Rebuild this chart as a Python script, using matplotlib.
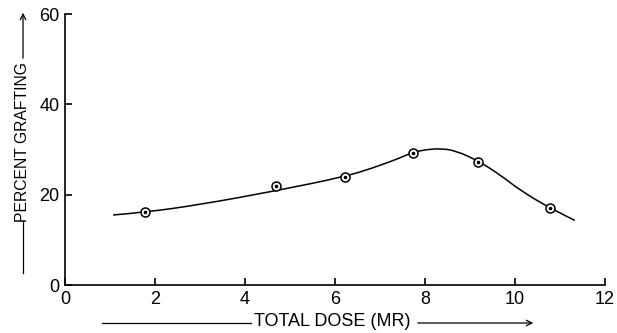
import matplotlib
matplotlib.use('Agg')
import matplotlib.pyplot as plt
from matplotlib.path import Path
from matplotlib.patches import PathPatch

# measured grafting yields
dose = [1.78, 4.70, 6.22, 7.73, 9.18, 10.78]
grafting = [16.1, 21.9, 24.0, 29.3, 27.3, 17.1]

# hand-drawn trend curve through the measurements
curve_dose = [1.07, 1.78, 3.0, 4.71, 6.22, 6.84, 7.44, 7.73, 8.04, 8.33,
              8.67, 9.18, 9.67, 10.11, 10.78, 11.33]
curve_pct = [15.5, 16.1, 17.8, 20.9, 24.0, 25.9, 28.1, 29.4, 30.0, 30.2,
             29.8, 27.5, 24.4, 21.0, 17.0, 14.3]

x_ticks = [0, 2, 4, 6, 8, 10, 12]
y_ticks = [0, 20, 40, 60]

plt.rcParams['font.family'] = ['Liberation Sans', 'DejaVu Sans']


def smooth_path(xs, ys):
    # quadratic bezier segments joining the midpoints, with the read points as controls
    pts = list(zip(xs, ys))
    verts = [pts[0]]
    codes = [Path.MOVETO]
    for i in range(1, len(pts) - 1):
        mid = ((pts[i][0] + pts[i + 1][0]) / 2, (pts[i][1] + pts[i + 1][1]) / 2)
        if i == len(pts) - 2:
            mid = pts[-1]
        verts += [pts[i], mid]
        codes += [Path.CURVE3, Path.CURVE3]
    return Path(verts, codes)


fig = plt.figure(figsize=(6.17, 3.33), dpi=100)
ax = fig.add_axes([0.1053, 0.1441, 0.8752, 0.8138])

ax.add_patch(PathPatch(smooth_path(curve_dose, curve_pct), facecolor='none',
                       edgecolor='black', lw=1.1))
ax.plot(dose, grafting, linestyle='none', marker='o', markersize=6.5,
        markerfacecolor='white', markeredgecolor='black', markeredgewidth=1.1)
ax.plot(dose, grafting, linestyle='none', marker='o', markersize=1.6,
        color='black')

ax.set_xlim(0, 12)
ax.set_ylim(0, 60)
ax.set_xticks(x_ticks)
ax.set_yticks(y_ticks)
for side in ('top', 'right'):
    ax.spines[side].set_visible(False)
for side in ('left', 'bottom'):
    ax.spines[side].set_linewidth(1.2)
ax.tick_params(direction='in', length=5, width=1.2, labelsize=13, pad=4)

# axis titles drawn with leader lines and arrows
fig.text(332, 11, 'TOTAL DOSE (MR)', transform=None, fontsize=13,
         ha='center', va='center')
fig.add_artist(plt.Line2D([102, 251], [10, 10], transform=None,
                          color='black', lw=0.9))
ax.annotate('', xy=(536, 10), xytext=(415, 10), xycoords='figure pixels',
            textcoords='figure pixels',
            arrowprops=dict(arrowstyle='->', color='black', lw=0.9))

fig.text(23, 191, 'PERCENT GRAFTING', transform=None, fontsize=11.3,
         rotation=90, ha='center', va='center')
fig.add_artist(plt.Line2D([23, 23], [60, 112], transform=None,
                          color='black', lw=0.9))
ax.annotate('', xy=(23, 323), xytext=(23, 272), xycoords='figure pixels',
            textcoords='figure pixels',
            arrowprops=dict(arrowstyle='->', color='black', lw=0.9))

fig.savefig('out.png', dpi=100)
